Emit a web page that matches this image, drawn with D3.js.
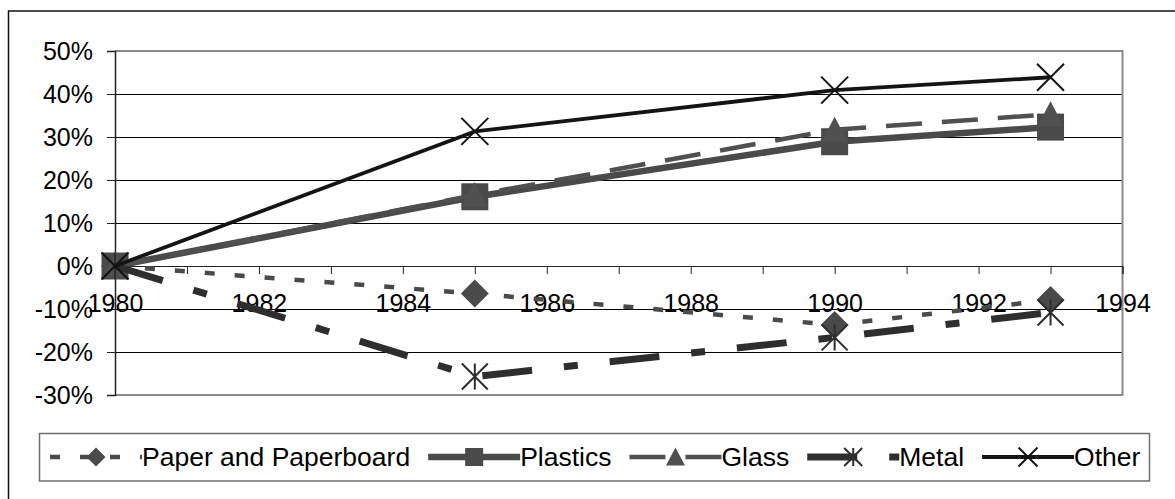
<!DOCTYPE html>
<html>
<head>
<meta charset="utf-8">
<script src="https://cdn.jsdelivr.net/npm/d3@7"></script>
<style>
  html, body { margin: 0; padding: 0; background: #fff; }
  svg { display: block; }
  text { font-family: "Liberation Sans", Arial, sans-serif; fill: #000; }
</style>
</head>
<body>
<svg id="chart" width="1175" height="499"></svg>
<script>
// Percent change in packaging materials since 1980
const years = [1980, 1985, 1990, 1993];
const seriesNames = ["Paper and Paperboard", "Plastics", "Glass", "Metal", "Other"];
const paper = [0, -6.4, -13.7, -7.9];
const plastics = [0, 16.1, 28.9, 32.3];
const glass = [0, 16.5, 31.7, 35.3];
const metal = [0, -25.7, -16.6, -10.8];
const other = [0, 31.3, 40.9, 43.9];
const yTickValues = [-30, -20, -10, 0, 10, 20, 30, 40, 50];
const xTickValues = [1980, 1981, 1982, 1983, 1984, 1985, 1986, 1987, 1988, 1989, 1990, 1991, 1992, 1993, 1994];
const xLabelValues = [1980, 1982, 1984, 1986, 1988, 1990, 1992, 1994];

const svg = d3.select("#chart");
const AXIS_FONT = 25;
const LEGEND_FONT = 26.5;

const plot = { left: 115, right: 1122.5, top: 51, bottom: 395 };
const x = d3.scaleLinear().domain([1980, 1994]).range([plot.left, plot.right]);
const y = d3.scaleLinear().domain([-30, 50]).range([plot.bottom, plot.top]);

// outer chart frame (runs past the right and bottom edges)
svg.append("path")
  .attr("d", "M8.5,499 L8.5,11 L1175,11")
  .attr("fill", "none").attr("stroke", "#111").attr("stroke-width", 1.5);

// horizontal gridlines
svg.append("g").selectAll("line")
  .data(yTickValues.filter(v => v !== -30 && v !== 50))
  .join("line")
  .attr("x1", plot.left).attr("x2", plot.right)
  .attr("y1", d => Math.round(y(d)) + 0.5).attr("y2", d => Math.round(y(d)) + 0.5)
  .attr("stroke", "#000").attr("stroke-width", 1);

// plot area border (top, right, bottom)
svg.append("path")
  .attr("d", `M${plot.left},${plot.top} L${plot.right},${plot.top} L${plot.right},${plot.bottom} L${plot.left},${plot.bottom}`)
  .attr("fill", "none").attr("stroke", "#8a8a8a").attr("stroke-width", 2);

// y axis
const yAxis = d3.axisLeft(y).tickValues(yTickValues).tickSize(8).tickPadding(14)
  .tickFormat(d => d + "%");
const yg = svg.append("g").attr("transform", `translate(${plot.left},0)`).call(yAxis);
yg.select(".domain").attr("stroke", "#222").attr("stroke-width", 1.5);
yg.selectAll(".tick line").attr("stroke", "#222");
yg.selectAll(".tick text")
  .attr("font-size", AXIS_FONT).attr("fill", "#000")
  .attr("font-family", "Liberation Sans, Arial, sans-serif")
  .attr("dy", "0.35em");

// x axis crossing at 0%
const xAxis = d3.axisBottom(x).tickValues(xTickValues).tickSize(8).tickPadding(20)
  .tickFormat(d => xLabelValues.includes(d) ? String(d) : "");
const xg = svg.append("g").attr("transform", `translate(0,${y(0)})`).call(xAxis);
xg.select(".domain").attr("stroke", "#222").attr("stroke-width", 1);
xg.selectAll(".tick line").attr("stroke", "#222");
xg.selectAll(".tick text")
  .attr("font-size", AXIS_FONT).attr("fill", "#000")
  .attr("font-family", "Liberation Sans, Arial, sans-serif");

// marker shapes
const markerPaths = {
  diamond: s => `M0,${-s}L${s},0L0,${s}L${-s},0Z`,
  square: s => `M${-s},${-s}H${s}V${s}H${-s}Z`,
  triangle: s => `M0,${-s}L${s},${s * 0.9}L${-s},${s * 0.9}Z`,
  star: s => `M${-s},${-s}L${s},${s}M${s},${-s}L${-s},${s}M0,${-s}V${s}`,
  cross: s => `M${-s},${-s}L${s},${s}M${s},${-s}L${-s},${s}`
};

const series = [
  { name: seriesNames[0], values: paper, color: "#4a4a4a", width: 4.5, dash: "10,20", marker: "diamond", size: 14, filled: true, lsize: 9.5 },
  { name: seriesNames[1], values: plastics, color: "#4a4a4a", width: 6.5, dash: null, marker: "square", size: 13.5, filled: true, lsize: 9 },
  { name: seriesNames[2], values: glass, color: "#505050", width: 4.5, dash: "36,20", marker: "triangle", size: 13, filled: true, lsize: 9.5 },
  { name: seriesNames[3], values: metal, color: "#2e2e2e", width: 7, dash: "50,32,14,32", marker: "star", size: 13, filled: false, lsize: 9 },
  { name: seriesNames[4], values: other, color: "#141414", width: 3.8, dash: null, marker: "cross", size: 13.5, filled: false, lsize: 9.5 }
];

const line = d3.line().x(d => x(d.year)).y(d => y(d.value));

function drawMarker(g, s, cx, cy, size) {
  const p = g.append("path")
    .attr("transform", `translate(${cx},${cy})`)
    .attr("d", markerPaths[s.marker](size));
  if (s.filled) {
    p.attr("fill", s.color).attr("stroke", "none");
  } else {
    p.attr("fill", "none").attr("stroke", s.color).attr("stroke-width", 2);
  }
}

series.forEach(s => {
  const pts = years.map((yr, i) => ({ year: yr, value: s.values[i] }));
  const g = svg.append("g");
  g.append("path")
    .datum(pts)
    .attr("d", line)
    .attr("fill", "none")
    .attr("stroke", s.color)
    .attr("stroke-width", s.width)
    .attr("stroke-dasharray", s.dash)
    .attr("stroke-linecap", "butt")
    .attr("stroke-linejoin", "round");
  pts.forEach(p => drawMarker(g, s, x(p.year), y(p.value), s.size));
});

// legend
const legend = svg.append("g");
legend.append("rect")
  .attr("x", 39.5).attr("y", 433.5).attr("width", 1110).attr("height", 47.5)
  .attr("fill", "#fff").attr("stroke", "#6e6e6e").attr("stroke-width", 1.5);

const sampleLen = 92;
const gapAfter = 18;
const ly = 457;
let lx = 50;
series.forEach(s => {
  const g = legend.append("g");
  g.append("line")
    .attr("x1", lx).attr("x2", lx + sampleLen)
    .attr("y1", ly).attr("y2", ly)
    .attr("stroke", s.color).attr("stroke-width", s.width)
    .attr("stroke-dasharray", s.dash);
  drawMarker(g, s, lx + sampleLen / 2, ly, s.lsize);
  const t = g.append("text")
    .attr("x", lx + sampleLen).attr("y", ly)
    .attr("dy", "0.35em")
    .attr("font-size", LEGEND_FONT)
    .text(s.name);
  lx += sampleLen + t.node().getComputedTextLength() + gapAfter;
});
</script>
</body>
</html>
